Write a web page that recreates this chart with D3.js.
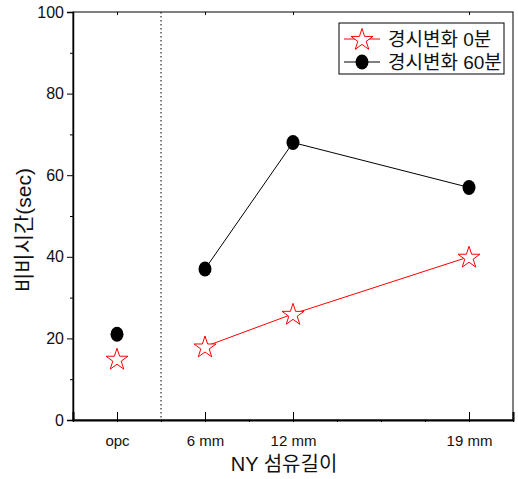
<!DOCTYPE html>
<html>
<head>
<meta charset="utf-8">
<script src="https://cdn.jsdelivr.net/npm/d3@7"></script>
<style>
  body { margin: 0; background: #fff; }
  svg text { font-family: "Liberation Sans", Arial, "Noto Sans CJK KR", sans-serif; fill: #111; }
</style>
</head>
<body>
<div id="chart"></div>
<script>
// categories sit at positions 1,2,3,5 on a numeric axis
const categories = ['opc', '6 mm', '12 mm', '19 mm'];
const catPos = [1, 2, 3, 5];
const series0 = [15, 18, 26, 40];   // 경시변화 0분
const series60 = [21, 37, 68, 57];  // 경시변화 60분
const yTicks = [0, 20, 40, 60, 80, 100];
const seriesNames = ['경시변화 0분', '경시변화 60분'];

const width = 518, height = 479;
const margin = { top: 12, right: 5, bottom: 59, left: 73 };

const svg = d3.select('#chart').append('svg')
  .attr('width', width)
  .attr('height', height);

const x = d3.scaleLinear().domain([0.5, 5.5]).range([margin.left, width - margin.right]);
const y = d3.scaleLinear().domain([0, 100]).range([height - margin.bottom, margin.top]);

const x0 = x.range()[0], x1 = x.range()[1];
const y0 = y.range()[0], y1 = y.range()[1];

// dotted separator between opc and the fibre lengths
svg.append('line')
  .attr('x1', x(1.5)).attr('x2', x(1.5))
  .attr('y1', y1).attr('y2', y0)
  .attr('stroke', '#000')
  .attr('stroke-width', 1)
  .attr('stroke-dasharray', '1.5,2.5');

// frame
svg.append('rect')
  .attr('x', x0).attr('y', y1)
  .attr('width', x1 - x0).attr('height', y0 - y1)
  .attr('fill', 'none')
  .attr('stroke', '#000')
  .attr('stroke-width', 1);

// y axis, major + minor outward ticks
const yAxis = svg.append('g').attr('transform', `translate(${x0},0)`);
yAxis.call(d3.axisLeft(y).tickValues(d3.range(10, 100, 20)).tickSize(3).tickFormat(''));
yAxis.call(g => g.select('.domain').remove());
const yMajor = svg.append('g').attr('transform', `translate(${x0},0)`)
  .call(d3.axisLeft(y).tickValues(yTicks).tickSize(6).tickPadding(3));
yMajor.select('.domain').attr('stroke-width', 1.5);
yMajor.selectAll('text').attr('font-size', 16).attr('fill', '#111');

// x axis, major ticks pointing inward, minor marks at half steps
const xMinor = svg.append('g').attr('transform', `translate(0,${y0})`)
  .call(d3.axisBottom(x).tickValues(d3.range(0.5, 5.6, 0.5)).tickSize(2).tickFormat(''));
xMinor.select('.domain').remove();
const xAxis = svg.append('g').attr('transform', `translate(0,${y0})`)
  .call(d3.axisBottom(x).tickValues(catPos).tickSize(-8).tickPadding(13)
    .tickFormat((d, i) => categories[i]));
xAxis.select('.domain').attr('stroke-width', 2);
xAxis.selectAll('text').attr('font-size', 15).attr('fill', '#111').attr('dy', '0.85em');

// small ticks on top frame
svg.append('g').attr('transform', `translate(0,${y1})`)
  .call(d3.axisTop(x).tickValues(catPos).tickSize(-3).tickFormat(''))
  .select('.domain').remove();

// axis titles
svg.append('text')
  .attr('x', 284)
  .attr('y', 471)
  .attr('text-anchor', 'middle')
  .attr('font-size', 20)
  .text('NY 섬유길이');

svg.append('text')
  .attr('transform', `translate(31,230) rotate(-90)`)
  .attr('text-anchor', 'middle')
  .attr('font-size', 21)
  .text('비비시간(sec)');

// lines (opc is not connected to the fibre series)
const line = d3.line().x(d => x(d[0])).y(d => y(d[1]));
const pts0 = catPos.map((p, i) => [p, series0[i]]);
const pts60 = catPos.map((p, i) => [p, series60[i]]);

svg.append('path')
  .datum(pts60.slice(1))
  .attr('fill', 'none').attr('stroke', '#000').attr('stroke-width', 1)
  .attr('d', line);
svg.append('path')
  .datum(pts0.slice(1))
  .attr('fill', 'none').attr('stroke', '#ff0000').attr('stroke-width', 1)
  .attr('d', line);

const star = d3.symbol().type(d3.symbolStar).size(150);

function drawCircle(g, cx, cy) {
  g.append('ellipse')
    .attr('cx', cx).attr('cy', cy)
    .attr('rx', 6.5).attr('ry', 7.5)
    .attr('fill', '#000');
}
function drawStar(g, cx, cy) {
  g.append('path')
    .attr('d', star())
    .attr('transform', `translate(${cx},${cy + 1})`)
    .attr('fill', '#fff')
    .attr('stroke', '#ff0000')
    .attr('stroke-width', 1);
}

const marks = svg.append('g');
pts60.forEach(d => drawCircle(marks, x(d[0]), y(d[1])));
pts0.forEach(d => drawStar(marks, x(d[0]), y(d[1])));

// legend
const legend = svg.append('g');
legend.append('rect')
  .attr('x', 339).attr('y', 23)
  .attr('width', 165).attr('height', 51)
  .attr('fill', '#fff').attr('stroke', '#000').attr('stroke-width', 1);

const rows = [
  { name: seriesNames[0], color: '#ff0000', draw: drawStar, cy: 39 },
  { name: seriesNames[1], color: '#000', draw: drawCircle, cy: 62 }
];
rows.forEach(r => {
  legend.append('line')
    .attr('x1', 344).attr('x2', 380)
    .attr('y1', r.cy).attr('y2', r.cy)
    .attr('stroke', r.color).attr('stroke-width', 1);
  r.draw(legend, 362, r.cy);
  legend.append('text')
    .attr('x', 388).attr('y', r.cy + 7)
    .attr('font-size', 19)
    .text(r.name);
});
</script>
</body>
</html>
